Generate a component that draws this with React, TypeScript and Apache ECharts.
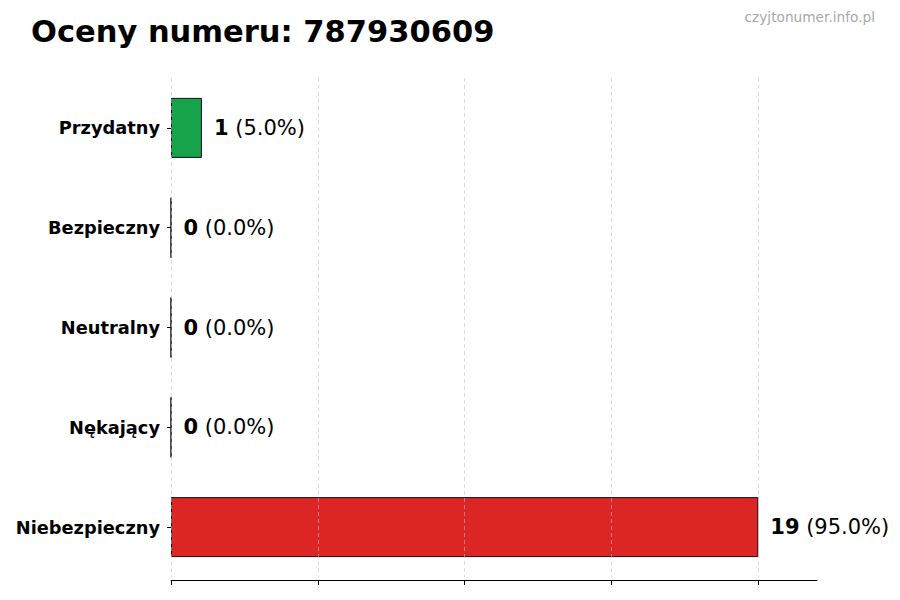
import { useEffect, useRef } from 'react'
import * as echarts from 'echarts'

const categories = ['Przydatny', 'Bezpieczny', 'Neutralny', 'Nękający', 'Niebezpieczny']
const counts = [1, 0, 0, 0, 19]
const barColors = ['#17a34a', '#86c98f', '#9ca3af', '#f08a24', '#dc2626']
const gridValues = [0, 4.75, 9.5, 14.25, 19]

const FONT = 'DejaVu Sans'

const App = () => {
  const chartRef = useRef<HTMLDivElement>(null)

  useEffect(() => {
    if (!chartRef.current) return
    const chart = echarts.init(chartRef.current, undefined, { renderer: 'svg' })
    const total = counts.reduce((a, b) => a + b, 0)

    chart.setOption({
      animation: false,
      backgroundColor: '#fff',
      textStyle: { fontFamily: FONT },
      title: [
        {
          text: 'Oceny numeru: 787930609',
          left: 31,
          top: 16,
          padding: 0,
          textStyle: { fontFamily: FONT, fontSize: 30.5, fontWeight: 'bold', color: '#000' }
        },
        {
          text: 'czyjtonumer.info.pl',
          right: 25,
          top: 10,
          padding: 0,
          textStyle: { fontFamily: FONT, fontSize: 13.7, fontWeight: 'normal', color: '#a8a8a8' }
        }
      ],
      grid: { left: 171, right: 83, top: 78, bottom: 23 },
      xAxis: {
        type: 'value',
        min: 0,
        max: 20.9,
        interval: 4.75,
        offset: 3,
        axisLabel: { show: false },
        axisLine: { show: true, lineStyle: { color: '#000', width: 1 } },
        axisTick: { show: true, length: 5, customValues: gridValues, lineStyle: { color: '#000' } },
        splitLine: { show: false }
      },
      yAxis: {
        type: 'category',
        inverse: true,
        data: categories,
        axisLine: { show: false },
        axisTick: { show: true, length: 4, alignWithLabel: true, lineStyle: { color: '#000' } },
        axisLabel: {
          margin: 11,
          padding: [3, 0, 0, 0],
          fontFamily: FONT,
          fontSize: 17.8,
          fontWeight: 'bold',
          color: '#000'
        }
      },
      series: [
        {
          type: 'bar',
          barWidth: 60,
          data: counts.map((v, i) => ({
            value: v,
            itemStyle: { color: barColors[i], borderColor: '#111', borderWidth: 1 }
          })),
          label: {
            show: true,
            position: 'right',
            distance: 12,
            formatter: (p: any) => `{b|${p.value}}{n| (${((p.value / total) * 100).toFixed(1)}%)}`,
            rich: {
              b: { fontFamily: FONT, fontSize: 21, fontWeight: 'bold', color: '#000' },
              n: { fontFamily: FONT, fontSize: 21, color: '#000' }
            }
          },
          markLine: {
            silent: true,
            symbol: 'none',
            label: { show: false },
            lineStyle: { type: [4, 3], color: 'rgba(190,190,190,0.7)', width: 0.8 },
            data: gridValues.map((v) => ({ xAxis: v }))
          }
        }
      ]
    })

    return () => chart.dispose()
  }, [])

  return (
    <div
      ref={chartRef}
      style={{ position: 'absolute', left: 0, top: 0, width: 900, height: 600, background: '#fff' }}
    />
  )
}

export default App
